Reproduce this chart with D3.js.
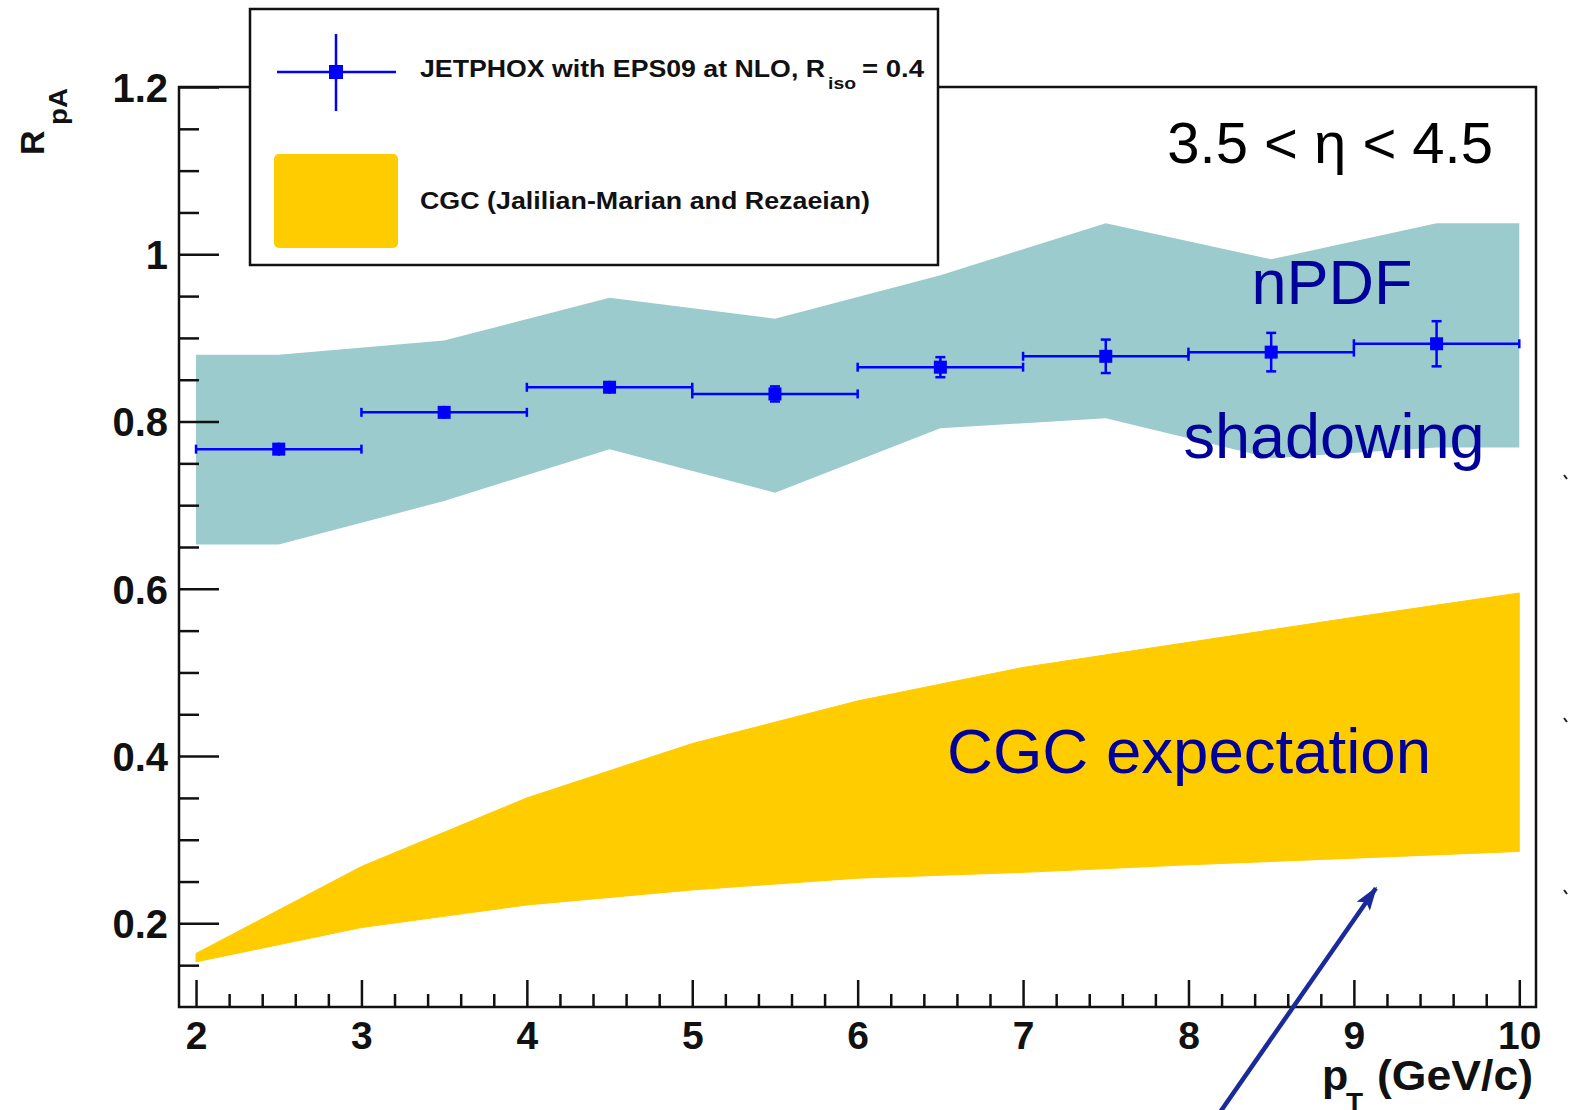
<!DOCTYPE html>
<html>
<head>
<meta charset="utf-8">
<script src="https://cdn.jsdelivr.net/npm/d3@7"></script>
<style>
  html, body { margin: 0; padding: 0; background: #fff; }
  svg { display: block; }
  text { font-family: "Liberation Sans", Arial, Helvetica, sans-serif; }
</style>
</head>
<body>
<svg id="chart" width="1569" height="1110"></svg>
<script>
// ---- data ----
// nPDF (EPS09) uncertainty band, R_pA vs pT
const bandX      = [2, 2.5, 3.5, 4.5, 5.5, 6.5, 7.5, 8.5, 9.5, 10];
const npdfUpper  = [0.880, 0.880, 0.897, 0.948, 0.923, 0.975, 1.037, 0.994, 1.037, 1.037];
const npdfLower  = [0.653, 0.653, 0.705, 0.767, 0.715, 0.792, 0.804, 0.756, 0.769, 0.769];

// CGC band (Jalilian-Marian and Rezaeian)
const cgcX       = [2, 3, 4, 5, 6, 7, 8, 9, 10];
const cgcUpper   = [0.164, 0.268, 0.350, 0.415, 0.466, 0.506, 0.536, 0.566, 0.595];
const cgcLower   = [0.154, 0.195, 0.222, 0.240, 0.254, 0.261, 0.270, 0.278, 0.286];

// JETPHOX with EPS09 at NLO points (pT bins of 1 GeV/c)
const binLow     = [2, 3, 4, 5, 6, 7, 8, 9];
const binHigh    = [3, 4, 5, 6, 7, 8, 9, 10];
const binCenter  = [2.5, 3.5, 4.5, 5.5, 6.5, 7.5, 8.5, 9.5];
const rpaValue   = [0.767, 0.811, 0.841, 0.833, 0.865, 0.878, 0.883, 0.893];
const rpaError   = [0.002, 0.002, 0.004, 0.009, 0.012, 0.020, 0.023, 0.027];

// axis ticks
const xMajorTicks = [2, 3, 4, 5, 6, 7, 8, 9, 10];
const xTickLabels = ["2", "3", "4", "5", "6", "7", "8", "9", "10"];
const yMajorTicks = [0.2, 0.4, 0.6, 0.8, 1.0, 1.2];
const yTickLabels = ["0.2", "0.4", "0.6", "0.8", "1", "1.2"];

// annotation arrow (data units: pT, R_pA)
const arrowFrom = [8.19, -0.026];
const arrowTo   = [9.133, 0.242];

// ---- layout ----
const W = 1569, H = 1110;
const plot = { left: 179, right: 1536, top: 87, bottom: 1007 };
const BLUE = "#0000ff";
const NAVY = "#00009a";

const svg = d3.select("#chart");
const x = d3.scaleLinear().domain([1.897, 10.101]).range([plot.left, plot.right]);
const y = d3.scaleLinear().domain([0.1, 1.2]).range([plot.bottom, plot.top]);

// bands
const bandArea = d3.area().x(d => x(d.x)).y0(d => y(d.lo)).y1(d => y(d.hi));
svg.append("path")
  .datum(bandX.map((v, i) => ({ x: v, lo: npdfLower[i], hi: npdfUpper[i] })))
  .attr("d", bandArea).attr("fill", "#9bcbcc");
svg.append("path")
  .datum(cgcX.map((v, i) => ({ x: v, lo: cgcLower[i], hi: cgcUpper[i] })))
  .attr("d", bandArea).attr("fill", "#ffcc00")
  .attr("stroke", "#ffcc00").attr("stroke-width", 1).attr("stroke-linejoin", "round");

// frame
svg.append("rect")
  .attr("x", plot.left).attr("y", plot.top)
  .attr("width", plot.right - plot.left).attr("height", plot.bottom - plot.top)
  .attr("fill", "none").attr("stroke", "#111").attr("stroke-width", 2.5);

// axes: inward ticks
function styleAxis(g) {
  g.select(".domain").remove();
  g.selectAll(".tick line").attr("stroke", "#111").attr("stroke-width", 2.5);
  g.attr("font-family", null).attr("font-size", null);
}
const xMinor = d3.range(2, 10.001, 0.2).filter(v => Math.abs(v - Math.round(v)) > 1e-6);
const yMinor = d3.range(0.15, 1.1501, 0.05).filter(v => Math.abs(v * 5 - Math.round(v * 5)) > 1e-6);

svg.append("g").attr("transform", `translate(0,${plot.bottom})`)
  .call(d3.axisBottom(x).tickValues(xMinor).tickFormat("").tickSizeInner(-13).tickSizeOuter(0))
  .call(styleAxis);
const gx = svg.append("g").attr("transform", `translate(0,${plot.bottom})`)
  .call(d3.axisBottom(x).tickValues(xMajorTicks).tickFormat((d, i) => xTickLabels[i])
        .tickSizeInner(-27).tickSizeOuter(0).tickPadding(14))
  .call(styleAxis);
gx.selectAll(".tick text").attr("fill", "#111").attr("font-size", 39).attr("font-weight", "bold");

svg.append("g").attr("transform", `translate(${plot.left},0)`)
  .call(d3.axisLeft(y).tickValues(yMinor).tickFormat("").tickSizeInner(-20).tickSizeOuter(0))
  .call(styleAxis);
const gy = svg.append("g").attr("transform", `translate(${plot.left},0)`)
  .call(d3.axisLeft(y).tickValues(yMajorTicks).tickFormat((d, i) => yTickLabels[i])
        .tickSizeInner(-40).tickSizeOuter(0).tickPadding(11))
  .call(styleAxis);
gy.selectAll(".tick text").attr("fill", "#111").attr("font-size", 40).attr("font-weight", "bold")
  .attr("dy", "0.36em");

// axis titles
svg.append("text").attr("x", 1322).attr("y", 1090)
  .attr("font-size", 43).attr("font-weight", "bold").attr("fill", "#111").text("p");
svg.append("text").attr("x", 1346).attr("y", 1112)
  .attr("font-size", 28).attr("font-weight", "bold").attr("fill", "#111").text("T");
svg.append("text").attr("x", 1377).attr("y", 1090)
  .attr("font-size", 43).attr("font-weight", "bold").attr("fill", "#111")
  .attr("textLength", 156).attr("lengthAdjust", "spacingAndGlyphs").text("(GeV/c)");

svg.append("text").attr("transform", "translate(44,155) rotate(-90)")
  .attr("font-size", 34).attr("font-weight", "bold").attr("fill", "#111").text("R");
svg.append("text").attr("transform", "translate(67,125) rotate(-90)")
  .attr("font-size", 25).attr("font-weight", "bold").attr("fill", "#111")
  .attr("textLength", 37).attr("lengthAdjust", "spacingAndGlyphs").text("pA");

// JETPHOX points with error bars
const pts = svg.append("g");
binCenter.forEach((c, i) => {
  const yc = y(rpaValue[i]);
  const g = pts.append("g").attr("stroke", BLUE).attr("stroke-width", 2.5);
  g.append("line").attr("x1", x(binLow[i])).attr("x2", x(binHigh[i])).attr("y1", yc).attr("y2", yc);
  g.append("line").attr("x1", x(binLow[i])).attr("x2", x(binLow[i])).attr("y1", yc - 4.5).attr("y2", yc + 4.5);
  g.append("line").attr("x1", x(binHigh[i])).attr("x2", x(binHigh[i])).attr("y1", yc - 4.5).attr("y2", yc + 4.5);
  const yt = y(rpaValue[i] + rpaError[i]), yb = y(rpaValue[i] - rpaError[i]);
  if (yb - yt > 12) {
    g.append("line").attr("x1", x(c)).attr("x2", x(c)).attr("y1", yt).attr("y2", yb);
    g.append("line").attr("x1", x(c) - 5).attr("x2", x(c) + 5).attr("y1", yt).attr("y2", yt);
    g.append("line").attr("x1", x(c) - 5).attr("x2", x(c) + 5).attr("y1", yb).attr("y2", yb);
  } else {
    g.append("line").attr("x1", x(c)).attr("x2", x(c)).attr("y1", Math.min(yt, yc - 6.5)).attr("y2", Math.max(yb, yc + 6.5));
  }
  pts.append("rect").attr("x", x(c) - 6.5).attr("y", yc - 6.5)
    .attr("width", 13).attr("height", 13).attr("fill", BLUE);
});

// annotations
const ann = svg.append("g").attr("fill", NAVY).attr("font-size", 63);
ann.append("text").attr("x", 1332).attr("y", 304).attr("text-anchor", "middle").text("nPDF");
ann.append("text").attr("x", 1334).attr("y", 458).attr("text-anchor", "middle").text("shadowing");
ann.append("text").attr("x", 1189).attr("y", 773).attr("text-anchor", "middle")
  .attr("textLength", 484).attr("lengthAdjust", "spacingAndGlyphs").text("CGC expectation");

svg.append("text").attr("x", 1493).attr("y", 163).attr("text-anchor", "end")
  .attr("font-size", 58).attr("fill", "#000").text("3.5 < η < 4.5");

// arrow
const defs = svg.append("defs");
defs.append("marker").attr("id", "arrowhead")
  .attr("markerUnits", "userSpaceOnUse").attr("viewBox", "0 0 24 16")
  .attr("markerWidth", 24).attr("markerHeight", 16).attr("refX", 22).attr("refY", 8)
  .attr("orient", "auto")
  .append("path").attr("d", "M0,0 L24,8 L0,16 L5,8 Z").attr("fill", "#1a2a9a");
svg.append("line")
  .attr("x1", x(arrowFrom[0])).attr("y1", y(arrowFrom[1]))
  .attr("x2", x(arrowTo[0])).attr("y2", y(arrowTo[1]))
  .attr("stroke", "#1a2a9a").attr("stroke-width", 4.5).attr("marker-end", "url(#arrowhead)");

// small marks at the right page edge
[477, 720, 892].forEach(py => {
  svg.append("path").attr("d", `M${W - 5},${py - 2} L${W - 2},${py + 2}`)
    .attr("stroke", "#222").attr("stroke-width", 2);
});

// legend
const leg = svg.append("g");
leg.append("rect").attr("x", 250).attr("y", 9).attr("width", 688).attr("height", 256)
  .attr("fill", "#fff").attr("stroke", "#111").attr("stroke-width", 2.5);
leg.append("line").attr("x1", 277).attr("x2", 396).attr("y1", 72).attr("y2", 72)
  .attr("stroke", BLUE).attr("stroke-width", 2.5);
leg.append("line").attr("x1", 336).attr("x2", 336).attr("y1", 34).attr("y2", 111)
  .attr("stroke", BLUE).attr("stroke-width", 2.5);
leg.append("rect").attr("x", 329).attr("y", 65).attr("width", 14).attr("height", 14).attr("fill", BLUE);
leg.append("rect").attr("x", 274).attr("y", 154).attr("width", 124).attr("height", 94)
  .attr("rx", 5).attr("fill", "#ffcc00");
const legText = leg.append("g").attr("font-weight", "bold").attr("fill", "#111");
legText.append("text").attr("x", 420).attr("y", 77).attr("font-size", 24)
  .attr("textLength", 405).attr("lengthAdjust", "spacingAndGlyphs")
  .text("JETPHOX with EPS09 at NLO, R");
legText.append("text").attr("x", 828).attr("y", 89).attr("font-size", 17)
  .attr("textLength", 28).attr("lengthAdjust", "spacingAndGlyphs").text("iso");
legText.append("text").attr("x", 862).attr("y", 77).attr("font-size", 24)
  .attr("textLength", 62).attr("lengthAdjust", "spacingAndGlyphs").text("= 0.4");
legText.append("text").attr("x", 420).attr("y", 209).attr("font-size", 24)
  .attr("textLength", 450).attr("lengthAdjust", "spacingAndGlyphs")
  .text("CGC (Jalilian-Marian and Rezaeian)");
</script>
</body>
</html>
